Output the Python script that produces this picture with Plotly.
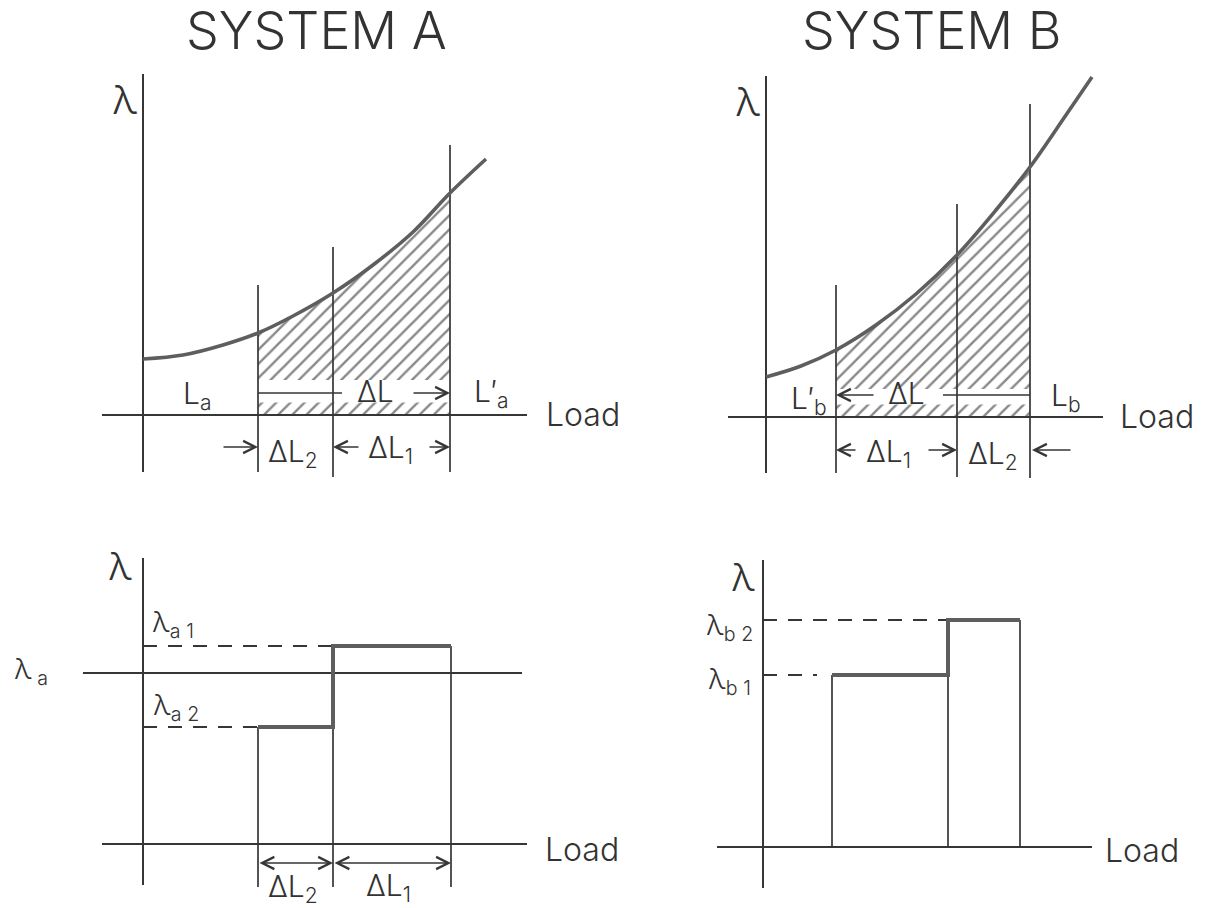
import plotly.graph_objects as go

W, H = 1219, 908
PX = 10.0  # figure pixels per diagram unit

# ---------------------------------------------------------------- data
# System A: incremental cost λ versus load
A_CURVE_LOAD = [0, 4, 8, 11.5, 15, 19.0, 23, 27, 30.7, 34.3]
A_CURVE_LAMBDA = [5.6, 6.0, 7.0, 8.2, 9.9, 12.2, 15.0, 18.3, 22.2, 25.6]
A_LOADS = [11.5, 19.0, 30.7]          # L_a, L_a + ΔL2, L'_a
A_LOAD_MARK_TOPS = [13.0, 16.8, 27.0]
A_LOAD_MARK_BOTTOMS = [-5.7, -6.2, -5.7]

# System B: incremental cost λ versus load
B_CURVE_LOAD = [0, 3.5, 7.0, 11, 15, 19.1, 23, 26.4, 30, 32.6]
B_CURVE_LAMBDA = [4.0, 5.1, 6.7, 9.2, 12.3, 16.2, 20.7, 25.0, 30.2, 34.0]
B_LOADS = [7.0, 19.1, 26.4]           # L'_b, L'_b + ΔL1, L_b
B_LOAD_MARK_TOPS = [13.2, 21.3, 31.3]
B_LOAD_MARK_BOTTOMS = [-5.6, -6.0, -6.1]

# Block (step) incremental costs
A_STEP_LOADS = [11.5, 19.0, 30.8]     # edges of ΔL2 and ΔL1 blocks
A_LAMBDA_SYSTEM = 17.1                # λ_a
A_STEP_LAMBDA = [11.7, 19.8]          # λ_a2, λ_a1
B_STEP_LOADS = [6.9, 18.5, 25.7]      # edges of ΔL1 and ΔL2 blocks
B_STEP_LAMBDA = [17.2, 22.7]          # λ_b1, λ_b2

# ---------------------------------------------------------------- layout frames
# pixel position of each panel's origin (λ axis meets Load axis)
ORIGINS = [(143, 415), (766, 417), (143, 844), (763, 847)]
AX = ["", "2", "3", "4"]

INK = "#363636"
THICK = "#5e5e5e"
FONT = "Inter, Open Sans, DejaVu Sans, sans-serif"

fig = go.Figure()
annotations = []


def seg(p, xs, ys, width=2.0, color=INK, dash=None, shape="linear"):
    fig.add_trace(go.Scatter(
        x=xs, y=ys, mode="lines", xaxis="x" + AX[p], yaxis="y" + AX[p],
        line=dict(color=color, width=width, dash=dash, shape=shape),
        hoverinfo="skip", showlegend=False))


def hatch(p, xs, ys):
    fig.add_trace(go.Scatter(
        x=xs, y=ys, mode="lines", fill="toself", xaxis="x" + AX[p], yaxis="y" + AX[p],
        line=dict(width=0, color="rgba(0,0,0,0)"),
        fillcolor="rgba(0,0,0,0)",
        fillpattern=dict(shape="/", size=10, solidity=0.24, fgcolor="#111111",
                         bgcolor="rgba(0,0,0,0)"),
        hoverinfo="skip", showlegend=False))


def label(p, x, y, text, size=30, xanchor="center"):
    annotations.append(dict(
        xref="x" + AX[p], yref="y" + AX[p], x=x, y=y, text=text, showarrow=False,
        xanchor=xanchor, yanchor="middle",
        font=dict(family=FONT, size=size, color="#333", weight=300)))


def arrow(p, x_head, x_tail, y, both=False):
    annotations.append(dict(
        xref="x" + AX[p], yref="y" + AX[p], axref="x" + AX[p], ayref="y" + AX[p],
        x=x_head, y=y, ax=x_tail, ay=y, text="", showarrow=True,
        arrowhead=5, arrowsize=1.5, arrowwidth=1.6, arrowcolor=INK,
        arrowside="end+start" if both else "end", standoff=0, startstandoff=0))


def between(xs, ys, lo, hi):
    pts = [(x, y) for x, y in zip(xs, ys) if lo <= x <= hi]
    return [p[0] for p in pts], [p[1] for p in pts]


# ---------------------------------------------------------------- top panels
for p, curve_x, curve_y, loads, tops, bottoms, band_top in [
    (0, A_CURVE_LOAD, A_CURVE_LAMBDA, A_LOADS, A_LOAD_MARK_TOPS, A_LOAD_MARK_BOTTOMS, 3.5),
    (1, B_CURVE_LOAD, B_CURVE_LAMBDA, B_LOADS, B_LOAD_MARK_TOPS, B_LOAD_MARK_BOTTOMS, 2.8),
]:
    lo, hi = loads[0], loads[-1]
    cx, cy = between(curve_x, curve_y, lo, hi)
    # shaded area under the curve between the two operating points
    hatch(p, [lo] + cx + [hi, lo], [band_top] + cy + [band_top, band_top])
    hatch(p, [lo, hi, hi, lo, lo], [0, 0, 1.25, 1.25, 0])
    # axes
    seg(p, [0, 0], [bottoms[0], 34.1])
    seg(p, [-4.1 if p == 0 else -3.8, 38.4 if p == 0 else 33.7], [0, 0])
    # load markers
    for x, t, b in zip(loads, tops, bottoms):
        seg(p, [x, x], [b, t], width=1.7)
    # cost curve
    seg(p, curve_x, curve_y, width=3.6, color=THICK, shape="spline")
    label(p, -1.8, 31.6, "λ", size=40)

# System A labels
label(0, 17.3, 38.5, "SYSTEM A", size=52)
label(0, 5.4, 2.0, "L<sub>a</sub>")
label(0, 34.8, 2.2, "L′<sub>a</sub>")
label(0, 40.1, 0.1, "Load", size=32, xanchor="left")
seg(0, [A_LOADS[0], 19.9], [2.2, 2.2], width=1.7)
label(0, 23.2, 2.4, "ΔL")
arrow(0, A_LOADS[2], 26.9, 2.2)
arrow(0, A_LOADS[0], 7.9, -3.2)
label(0, 15.0, -3.8, "ΔL<sub>2</sub>")
arrow(0, A_LOADS[1], 21.7, -3.2)
label(0, 24.7, -3.4, "ΔL<sub>1</sub>")
arrow(0, A_LOADS[2], 28.5, -3.2)

# System B labels
label(1, 16.6, 38.7, "SYSTEM B", size=52)
label(1, 4.3, 1.7, "L′<sub>b</sub>")
label(1, 30.0, 2.0, "L<sub>b</sub>")
label(1, 35.2, 0.1, "Load", size=32, xanchor="left")
arrow(1, B_LOADS[0], 10.9, 2.2)
label(1, 14.0, 2.4, "ΔL")
seg(1, [17.7, B_LOADS[2]], [2.2, 2.2], width=1.7)
arrow(1, B_LOADS[0], 9.1, -3.3)
label(1, 12.2, -3.6, "ΔL<sub>1</sub>")
arrow(1, B_LOADS[1], 16.1, -3.3)
label(1, 22.7, -3.8, "ΔL<sub>2</sub>")
arrow(1, 26.6, 30.6, -3.3)

# ---------------------------------------------------------------- bottom-left: System A blocks
p = 2
l0, l1, l2 = A_STEP_LOADS
lam2, lam1 = A_STEP_LAMBDA
seg(p, [0, 0], [-4.1, 28.6])
seg(p, [-4.1, 38.4], [0, 0])
seg(p, [-6.0, 37.9], [A_LAMBDA_SYSTEM, A_LAMBDA_SYSTEM], width=2.2)
seg(p, [0, l1], [lam1, lam1], dash="14px,11px")
seg(p, [0, l0], [lam2, lam2], dash="14px,11px")
for x, t in [(l0, lam2), (l1, lam1), (l2, lam1)]:
    seg(p, [x, x], [-4.3, t], width=1.7)
seg(p, [l0, l1, l1, l2], [lam2, lam2, lam1, lam1], width=4, color=THICK)
arrow(p, l1, l0, -1.9, both=True)
arrow(p, l2, l1, -1.9, both=True)
label(p, 15.0, -4.4, "ΔL<sub>2</sub>")
label(p, 24.5, -4.3, "ΔL<sub>1</sub>")
label(p, -2.3, 27.8, "λ", size=38)
label(p, -11.2, 17.3, "λ<sub> a</sub>", size=28)
label(p, 3.0, 22.0, "λ<sub>a 1</sub>", size=28)
label(p, 3.3, 13.7, "λ<sub>a 2</sub>", size=28)
label(p, 40.0, -0.5, "Load", size=32, xanchor="left")

# ---------------------------------------------------------------- bottom-right: System B blocks
p = 3
m0, m1, m2 = B_STEP_LOADS
mu1, mu2 = B_STEP_LAMBDA
seg(p, [0, 0], [-4.1, 28.7])
seg(p, [-4.6, 32.9], [0, 0])
seg(p, [0, m1], [mu2, mu2], dash="14px,11px")
seg(p, [0, 5.4], [mu1, mu1], dash="14px,11px")
for x, t in [(m0, mu1), (m1, mu2), (m2, mu2)]:
    seg(p, [x, x], [0, t], width=1.7)
seg(p, [m0, m1, m1, m2], [mu1, mu1, mu2, mu2], width=4, color=THICK)
label(p, -2.0, 27.0, "λ", size=38)
label(p, -3.4, 22.0, "λ<sub>b 2</sub>", size=28)
label(p, -3.4, 16.6, "λ<sub>b 1</sub>", size=28)
label(p, 34.0, -0.3, "Load", size=32, xanchor="left")

# ---------------------------------------------------------------- axes setup
layout_axes = {}
for i, (ox, oy) in enumerate(ORIGINS):
    s = AX[i]
    layout_axes["xaxis" + s] = dict(range=[-ox / PX, (W - ox) / PX], domain=[0, 1],
                                    visible=False, fixedrange=True,
                                    anchor="y" + s)
    layout_axes["yaxis" + s] = dict(range=[(oy - H) / PX, oy / PX], domain=[0, 1],
                                    visible=False, fixedrange=True,
                                    anchor="x" + s)

fig.update_layout(
    width=W, height=H, autosize=False,
    margin=dict(l=0, r=0, t=0, b=0),
    paper_bgcolor="white", plot_bgcolor="rgba(0,0,0,0)",
    showlegend=False, annotations=annotations,
    **layout_axes)

fig.write_html("out.html", config={"displayModeBar": False})
